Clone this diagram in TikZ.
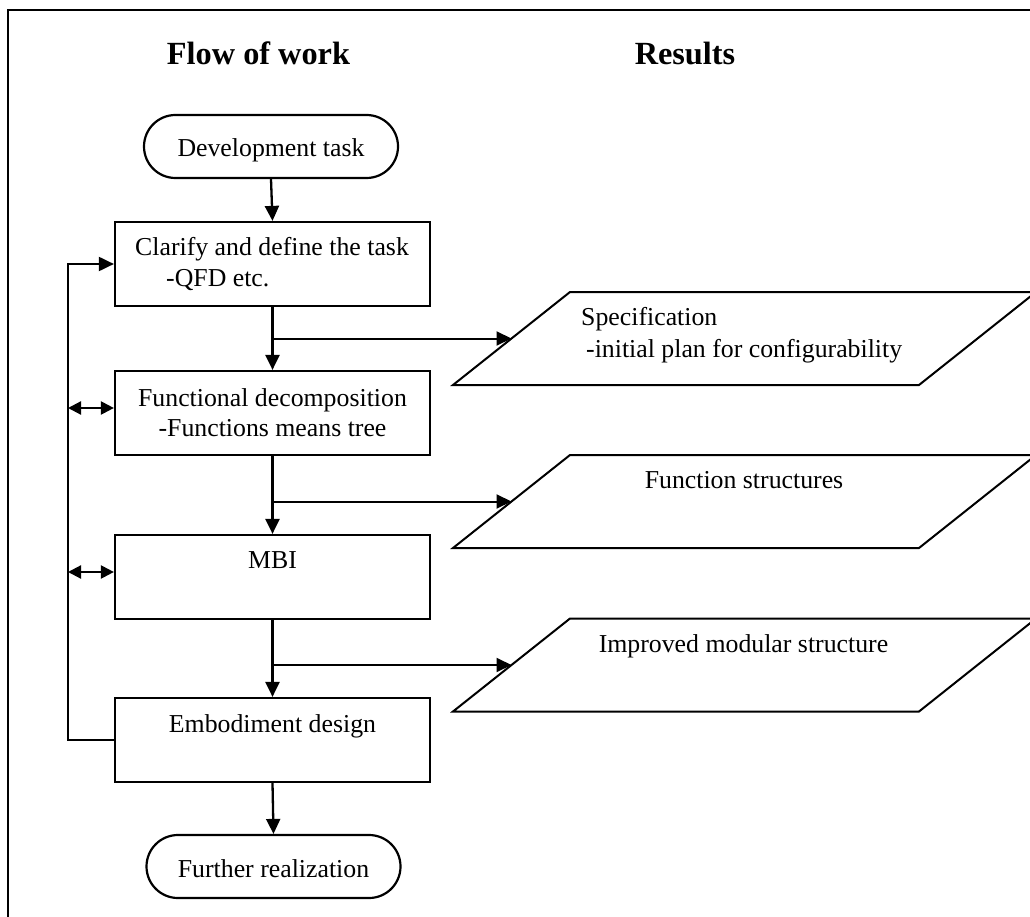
\documentclass[tikz,border=0pt]{standalone}
\usepackage{fontspec}
\setmainfont{Liberation Serif}
\usetikzlibrary{arrows.meta,calc}
\begin{document}
\begin{tikzpicture}[x=1pt,y=-1pt,
  body/.style={font=\fontsize{25.8}{30}\selectfont, inner sep=0pt},
  head/.style={font=\fontsize{32.3}{38}\selectfont\bfseries, inner sep=0pt, anchor=base},
  stepbox/.style={draw, line width=2.2pt, minimum width=315pt, minimum height=84pt, inner sep=0pt},
  terminal/.style={draw, line width=2.2pt, minimum width=254pt, minimum height=63pt,
                   rounded corners=31.5pt, inner sep=0pt},
  flow/.style={line width=2.3pt, -{Triangle[length=15pt,width=14pt]}},
  branch/.style={line width=2pt, -{Triangle[length=15pt,width=14pt]}},
  feedback/.style={line width=2pt, -{Triangle[length=15pt,width=14pt]}},
  dbl/.style={line width=2.2pt, {Triangle[length=13pt,width=13pt]}-{Triangle[length=13pt,width=13pt]}},
  pics/dataform/.style={code={
    \draw[line width=2pt] (-291.5,46.5) -- (-174.5,-46.5) -- (291.5,-46.5) -- (174.5,46.5) -- cycle;
    \coordinate (-in) at (-233,0);
  }}
]
\useasboundingbox (0,0) rectangle (1030,917);
\clip (0,0) rectangle (1030,917);

% outer frame
\draw[line width=2.2pt] (8,10) rectangle (1070,960);

% column headings
\node[head] (hflow) at (258.5,65) {Flow of work};
\node[head] (hres) at (685,65) {Results};

% process column
\node[terminal] (t1) at (271,146.5) {};
\node[body, anchor=base] (t1txt) at (271,157) {Development task};

\node[stepbox] (b1) at (272.5,264) {};
\node[body, anchor=base west] (b1a) at (135,255) {Clarify and define the task};
\node[body, anchor=base west] (b1b) at (166,287) {-QFD etc.};

\node[stepbox] (b2) at (272.5,413) {};
\node[body, anchor=base] (b2a) at (272.5,406) {Functional decomposition};
\node[body, anchor=base] (b2b) at (272.5,436) {-Functions means tree};

\node[stepbox] (b3) at (272.5,577) {};
\node[body, anchor=base] (b3a) at (272.5,568) {MBI};

\node[stepbox] (b4) at (272.5,740) {};
\node[body, anchor=base] (b4a) at (272.5,732) {Embodiment design};

\node[terminal] (t2) at (273.5,866.5) {};
\node[body, anchor=base] (t2txt) at (273.5,877) {Further realization};

% results column
\pic (spec) at (744.5,338.5) {dataform};
\node[body, anchor=base west] (speca) at (581,325) {Specification};
\node[body, anchor=base west] (specb) at (586,357) {-initial plan for configurability};

\pic (fstr) at (744.5,501.5) {dataform};
\node[body, anchor=base] (fstra) at (744,488) {Function structures};

\pic (mods) at (744.5,665) {dataform};
\node[body, anchor=base] (modsa) at (743.5,652) {Improved modular structure};

% main flow
\draw[flow] (t1.south) -- (b1.north);
\draw[flow] (b1.south) -- (b2.north);
\draw[flow] (b2.south) -- (b3.north);
\draw[flow] (b3.south) -- (b4.north);
\draw[flow] (b4.south) -- (t2.north);

% outputs
\coordinate (j1) at (b1.south |- spec-in);
\coordinate (j2) at (b2.south |- fstr-in);
\coordinate (j3) at (b3.south |- mods-in);
\draw[branch] (j1) -- (spec-in);
\draw[branch] (j2) -- (fstr-in);
\draw[branch] (j3) -- (mods-in);

% iteration loop
\coordinate (rail) at (68,0);
\draw[feedback] (b4.west) -- (b4.west -| rail) |- (b1.west);
\coordinate (b2w) at ([yshift=5pt]b2.west);
\coordinate (b3w) at ([yshift=5pt]b3.west);
\draw[dbl] (b2w -| rail) -- (b2w);
\draw[dbl] (b3w -| rail) -- (b3w);
\end{tikzpicture}
\end{document}
